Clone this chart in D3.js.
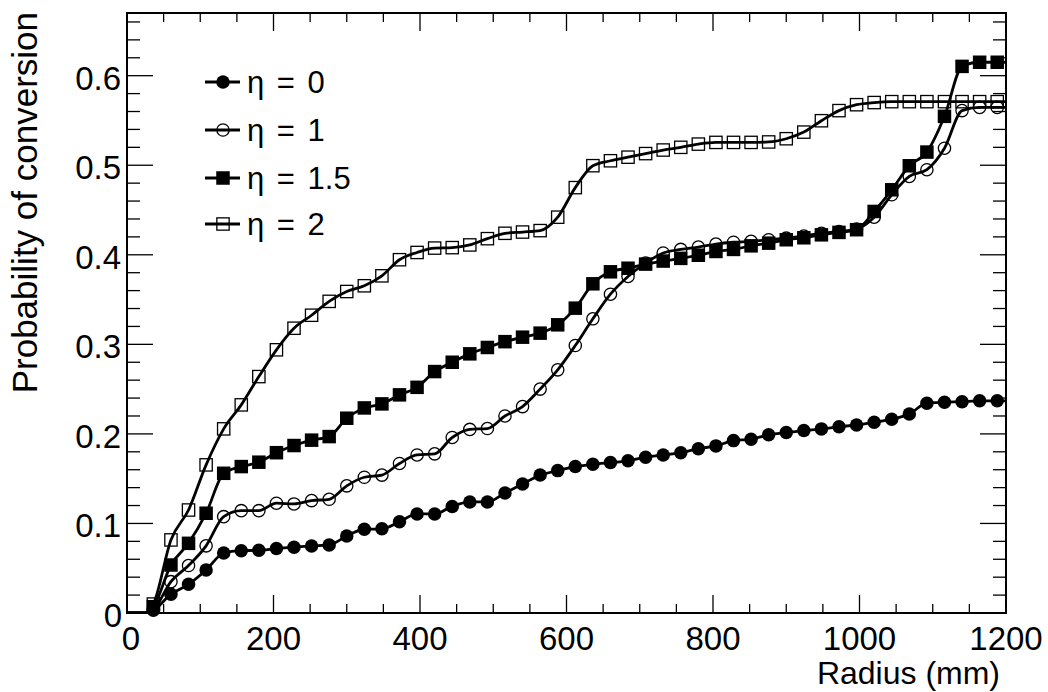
<!DOCTYPE html>
<html>
<head>
<meta charset="utf-8">
<script src="https://cdn.jsdelivr.net/npm/d3@7"></script>
<style>
  html, body { margin: 0; padding: 0; background: #fff; }
  svg { display: block; }
  text { font-family: "Liberation Sans", Arial, Helvetica, sans-serif; fill: #000; }
</style>
</head>
<body>
<svg id="chart" width="1048" height="692"></svg>
<script>
// ---------------- data ----------------
const radius = [36, 60, 84, 108, 132, 156, 180, 204, 228, 252, 276, 300, 324, 348, 372, 396, 420, 444, 468, 492,
  516, 540, 564, 588, 612, 636, 660, 684, 708, 732, 756, 780, 804, 828, 852, 876, 900, 924, 948, 972,
  996, 1020, 1044, 1068, 1092, 1116, 1140, 1164, 1188];

const eta0 = [0.003, 0.021, 0.032, 0.048, 0.067, 0.0696, 0.070, 0.072, 0.0734, 0.0749, 0.076, 0.086, 0.0935, 0.094, 0.102, 0.1106, 0.1106, 0.119, 0.124, 0.124,
  0.134, 0.144, 0.154, 0.159, 0.1635, 0.166, 0.168, 0.170, 0.174, 0.1765, 0.179, 0.1835, 0.1866, 0.1925, 0.194, 0.199, 0.2015, 0.2037, 0.2056, 0.208,
  0.210, 0.213, 0.2164, 0.2223, 0.2343, 0.2354, 0.236, 0.2369, 0.2369];

const eta1 = [0.004, 0.035, 0.053, 0.075, 0.1076, 0.1143, 0.1143, 0.1226, 0.1218, 0.1255, 0.127, 0.142, 0.1516, 0.154, 0.167, 0.1765, 0.1777, 0.196, 0.205, 0.206,
  0.220, 0.2305, 0.250, 0.2715, 0.2987, 0.3285, 0.356, 0.3758, 0.3907, 0.402, 0.406, 0.4086, 0.412, 0.414, 0.415, 0.4168, 0.4186, 0.421, 0.424, 0.426,
  0.4287, 0.442, 0.467, 0.4875, 0.495, 0.519, 0.561, 0.5646, 0.5646];

const eta15 = [0.007, 0.0536, 0.0778, 0.1114, 0.156, 0.1635, 0.1684, 0.179, 0.187, 0.193, 0.197, 0.2175, 0.229, 0.2335, 0.2436, 0.252, 0.2696, 0.280, 0.2894, 0.2965,
  0.303, 0.308, 0.3125, 0.3218, 0.3404, 0.3676, 0.381, 0.385, 0.3896, 0.393, 0.396, 0.3995, 0.4037, 0.406, 0.410, 0.413, 0.4168, 0.419, 0.4223, 0.425,
  0.428, 0.4484, 0.4726, 0.4994, 0.5147, 0.5546, 0.6104, 0.615, 0.615];

const eta2 = [0.010, 0.0816, 0.115, 0.1654, 0.2056, 0.2324, 0.264, 0.2939, 0.318, 0.3325, 0.348, 0.359, 0.3654, 0.3765, 0.3945, 0.4026, 0.4075, 0.408, 0.411, 0.418,
  0.424, 0.4254, 0.427, 0.442, 0.475, 0.4995, 0.505, 0.509, 0.513, 0.517, 0.520, 0.5236, 0.5255, 0.5255, 0.5255, 0.526, 0.5296, 0.537, 0.5497, 0.561,
  0.5676, 0.570, 0.571, 0.571, 0.571, 0.571, 0.571, 0.571, 0.571];

const seriesNames = ["η = 0", "η = 1", "η = 1.5", "η = 2"];
const seriesMarkers = ["circleFilled", "circleOpen", "squareFilled", "squareOpen"];
const seriesValues = [eta0, eta1, eta15, eta2];

const xTickLabels = [0, 200, 400, 600, 800, 1000, 1200];
const yTickLabels = [0, 0.1, 0.2, 0.3, 0.4, 0.5, 0.6];
const xDomain = [0, 1200];
const yDomain = [0, 0.67];

// ---------------- layout ----------------
const svg = d3.select("#chart");
const L = 127, R = 1006, T = 13, B = 613;
const x = d3.scaleLinear().domain(xDomain).range([L, R]);
const y = d3.scaleLinear().domain(yDomain).range([B, T]);

// ticks
const gT = svg.append("g").attr("stroke", "#000").attr("stroke-width", 1.3);
const xMinor = d3.range(0, 1201, 50);
const yMinor = d3.range(0, 0.671, 0.02);
xMinor.forEach(v => {
  const major = Math.abs(v % 200) < 1e-6;
  const len = major ? 18 : 9;
  gT.append("line").attr("x1", x(v)).attr("x2", x(v)).attr("y1", B).attr("y2", B - len);
  gT.append("line").attr("x1", x(v)).attr("x2", x(v)).attr("y1", T).attr("y2", T + len);
});
yMinor.forEach(v => {
  const major = Math.abs((v * 10) - Math.round(v * 10)) < 1e-6;
  const len = major ? 26 : 13;
  gT.append("line").attr("y1", y(v)).attr("y2", y(v)).attr("x1", L).attr("x2", L + len);
  gT.append("line").attr("y1", y(v)).attr("y2", y(v)).attr("x1", R).attr("x2", R - len);
});

// frame
svg.append("rect").attr("x", L).attr("y", T).attr("width", R - L).attr("height", B - T)
  .attr("fill", "none").attr("stroke", "#000").attr("stroke-width", 2);

// tick labels
svg.append("g").selectAll("text").data(xTickLabels).join("text")
  .attr("x", d => x(d) + (d === 0 ? 4 : 0)).attr("y", 650)
  .attr("text-anchor", "middle").attr("font-size", 33).text(d => d);
svg.append("g").selectAll("text").data(yTickLabels).join("text")
  .attr("x", d => d === 0 ? 122 : 121).attr("y", d => y(d) + 14)
  .attr("text-anchor", "end").attr("font-size", 33).text(d => d === 0 ? "0" : d.toFixed(1));

// axis titles
svg.append("text").attr("x", 1000).attr("y", 684).attr("text-anchor", "end")
  .attr("font-size", 32).text("Radius (mm)");
svg.append("text").attr("transform", `translate(37, ${T - 1}) rotate(-90)`).attr("text-anchor", "end")
  .attr("font-size", 35).text("Probability of conversion");

// ---------------- series ----------------
const lineGen = d3.line().x(d => x(d[0])).y(d => y(d[1])).curve(d3.curveMonotoneX);

function drawMarker(g, type, cx, cy) {
  const s = 13.5;
  if (type === "circleFilled") {
    g.append("circle").attr("cx", cx).attr("cy", cy).attr("r", s / 2).attr("fill", "#000");
  } else if (type === "circleOpen") {
    g.append("circle").attr("cx", cx).attr("cy", cy).attr("r", s / 2 - 0.6)
      .attr("fill", "none").attr("stroke", "#000").attr("stroke-width", 1.3);
  } else if (type === "squareFilled") {
    g.append("rect").attr("x", cx - s / 2).attr("y", cy - s / 2).attr("width", s).attr("height", s).attr("fill", "#000");
  } else {
    g.append("rect").attr("x", cx - s / 2 + 0.6).attr("y", cy - s / 2 + 0.6).attr("width", s - 1.2).attr("height", s - 1.2)
      .attr("fill", "none").attr("stroke", "#000").attr("stroke-width", 1.3);
  }
}

const clip = svg.append("defs").append("clipPath").attr("id", "frameClip");
clip.append("rect").attr("x", L).attr("y", T).attr("width", R - L).attr("height", B - T);

const plot = svg.append("g").attr("clip-path", "url(#frameClip)");

seriesValues.forEach((vals, i) => {
  const pts = radius.map((r, k) => [r, vals[k]]);
  const linePts = [[xDomain[0], 0], [24, 0], ...pts, [xDomain[1], vals[vals.length - 1]]];
  plot.append("path").attr("d", lineGen(linePts)).attr("fill", "none")
    .attr("stroke", "#000").attr("stroke-width", 2.8).attr("stroke-linejoin", "round");
  const gm = svg.append("g");
  pts.forEach(p => drawMarker(gm, seriesMarkers[i], x(p[0]), y(p[1])));
});

// ---------------- legend ----------------
const legendRows = [82, 130, 178, 224];
const lg = svg.append("g");
seriesNames.forEach((name, i) => {
  const cy = legendRows[i];
  lg.append("line").attr("x1", 205).attr("x2", 240).attr("y1", cy).attr("y2", cy)
    .attr("stroke", "#000").attr("stroke-width", 2.8);
  drawMarker(lg, seriesMarkers[i], 223, cy);
  lg.append("text").attr("x", 247).attr("y", cy + 11).attr("font-size", 31)
    .attr("word-spacing", 4).text(name);
});
</script>
</body>
</html>
